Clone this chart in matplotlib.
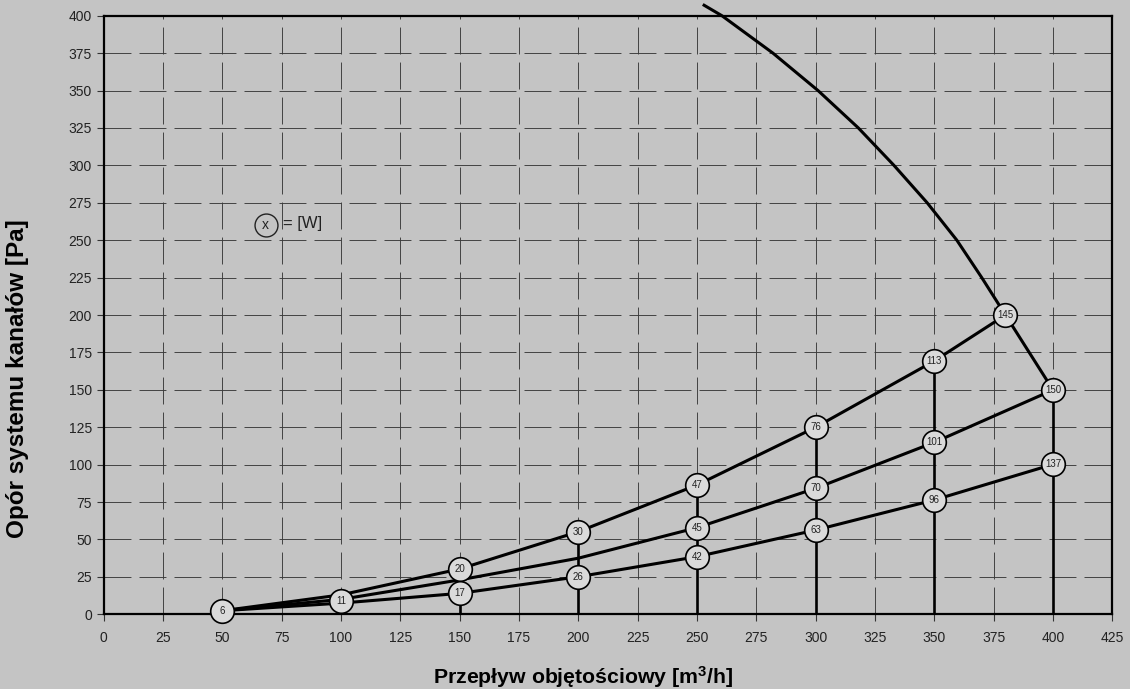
# coding=utf-8
import matplotlib
matplotlib.use('Agg')
from matplotlib import pyplot as plt

plt.rcParams['font.family'] = ['Liberation Sans', 'DejaVu Sans']
plt.rcParams['mathtext.default'] = 'regular'
plt.rcParams['lines.scale_dashes'] = False

# krzywe instalacji (przeplyw m3/h, opor Pa)
curve_a_x = [50, 100, 150, 200, 250, 300, 350, 380]
curve_a_y = [2.4, 13, 30.3, 55.2, 86.4, 125, 169.3, 200]
curve_b_x = [50, 100, 150, 200, 250, 300, 350, 400]
curve_b_y = [2.4, 10, 23, 37.5, 57.9, 84.2, 114.9, 149.9]
curve_c_x = [50, 100, 150, 200, 250, 300, 350, 400]
curve_c_y = [2.4, 7.5, 14.0, 25.1, 38.5, 56.3, 76.4, 100.2]

# charakterystyka maksymalna wentylatora
fan_x = [253, 260.5, 282, 301, 318, 333, 347, 359.5, 370, 380, 400]
fan_y = [407, 400, 375, 350, 325, 300, 275, 250, 225, 200, 150]

# linie pionowe
vert_x = [150, 200, 250, 300, 350, 400]
vert_top = [14.0, 55.2, 86.4, 125, 169.3, 149.9]

# punkty z moca [W]
pt_x = [50, 100, 150, 200, 250, 300, 350, 380,
        250, 300, 350, 400,
        150, 200, 250, 300, 350, 400]
pt_y = [2.4, 9.1, 30.3, 55.2, 86.4, 125, 169.3, 200,
        57.9, 84.2, 114.9, 149.9,
        14.0, 25.1, 38.5, 56.3, 76.4, 100.2]
pt_w = [6, 11, 20, 30, 47, 76, 113, 145,
        45, 70, 101, 150,
        17, 26, 42, 63, 96, 137]

x_ticks = list(range(0, 426, 25))
y_ticks = list(range(0, 401, 25))

bg = '#c4c4c4'
fig = plt.figure(figsize=(11.3, 6.89), dpi=100, facecolor=bg)
ax = fig.add_axes([0.0918, 0.1084, 0.8925, 0.8688], facecolor=bg)

ax.set_xlim(0, 425)
ax.set_ylim(0, 400)
ax.set_xticks(x_ticks)
ax.set_yticks(y_ticks)
ax.tick_params(labelsize=10, labelcolor='#222222', color='#333333', length=5, width=0.8)
ax.tick_params(axis='x', pad=7)
ax.set_axisbelow(True)
ax.grid(True, color='#3a3a3a', linewidth=0.65, linestyle=(0, (19.4, 5.8)))
for s in ax.spines.values():
    s.set_linewidth(1.6)
    s.set_color('black')

for xv, yt in zip(vert_x, vert_top):
    ax.plot([xv, xv], [0, yt], color='black', lw=1.9, zorder=3)

ax.plot(curve_a_x, curve_a_y, color='black', lw=2.2, zorder=3)
ax.plot(curve_b_x, curve_b_y, color='black', lw=2.2, zorder=3)
ax.plot(curve_c_x, curve_c_y, color='black', lw=2.2, zorder=3)
ax.plot(fan_x, fan_y, color='black', lw=2.2, zorder=3, clip_on=False)

ax.plot(pt_x, pt_y, 'o', ms=17, mfc='#dadada', mec='black', mew=1.2, zorder=4, clip_on=False)
for xv, yv, w in zip(pt_x, pt_y, pt_w):
    ax.text(xv, yv, str(w), fontsize=7, color='#222222', ha='center', va='center', zorder=5)

# legenda
ax.plot([68.2], [260.3], 'o', ms=16.5, mfc='none', mec='#222222', mew=1.0, zorder=4)
ax.text(68.2, 260.3, 'x', fontsize=10, color='#222222', ha='center', va='center', zorder=5)
ax.text(75.5, 261, '= [W]', fontsize=12, color='#222222', ha='left', va='center', zorder=5)

ax.set_xlabel('Przepływ objętościowy [m$^3$/h]', fontsize=15.3, fontweight='bold')
ax.set_ylabel('Opór systemu kanałów [Pa]', fontsize=17.5, fontweight='bold')
ax.xaxis.set_label_coords(0.475, -0.083)
ax.yaxis.set_label_coords(-0.074, 0.393)

plt.savefig('out.png', dpi=100, facecolor=bg)
